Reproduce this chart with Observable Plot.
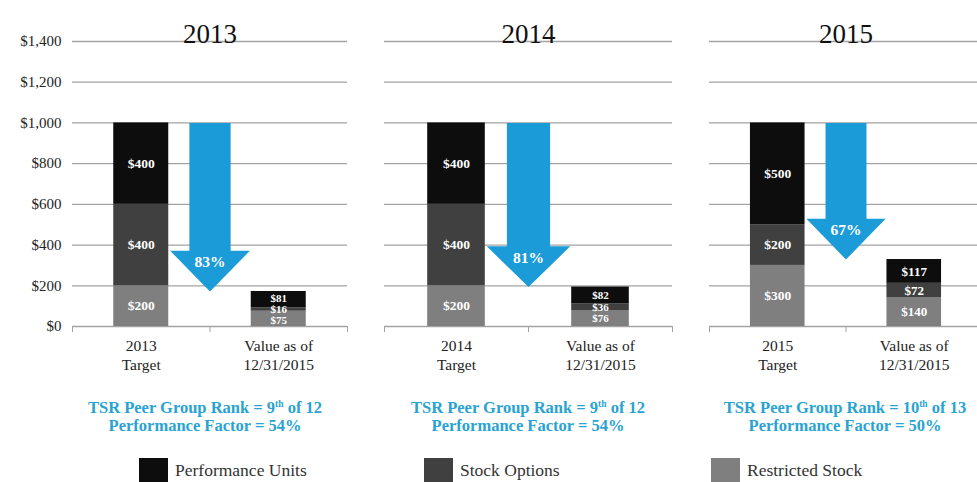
<!DOCTYPE html>
<html><head><meta charset="utf-8">
<script src="https://cdn.jsdelivr.net/npm/d3@7"></script>
<script src="https://cdn.jsdelivr.net/npm/@observablehq/plot@0.6"></script>
<style>
body{margin:0;background:#fff;overflow:hidden;}
#root{position:relative;width:977px;height:482px;overflow:hidden;font-family:"Liberation Serif",serif;background:#fff;}
.panel{position:absolute;top:0;}
.tsr{position:absolute;top:399px;width:360px;text-align:center;color:#2aa3d3;font-weight:bold;font-size:16.5px;line-height:18px;white-space:nowrap;}
.tsr sup{font-size:9.5px;line-height:0;vertical-align:6px;}
.sw{position:absolute;top:458px;width:29px;height:30px;}
.lt{position:absolute;top:460px;font-size:17.5px;line-height:21px;color:#333;white-space:nowrap;}
</style></head>
<body><div id="root"></div>
<script>
// ---- data ----
const years = ["2013", "2014", "2015"];
const components = ["Restricted Stock", "Stock Options", "Performance Units"];
const componentColors = ["#7f7f7f", "#404040", "#0d0d0d"];
const targetRestricted = [200, 200, 300];
const targetOptions    = [400, 400, 200];
const targetUnits      = [400, 400, 500];
const valueRestricted  = [75, 76, 140];
const valueOptions     = [16, 36, 72];
const valueUnits       = [81, 82, 117];
const declines = ["83%", "81%", "67%"];
const rankPlace = ["9", "9", "10"];
const rankOf = ["12", "12", "13"];
const perfFactor = ["54%", "54%", "50%"];
const valueLabel = "Value as of\n12/31/2015";
const yTicks = [0, 200, 400, 600, 800, 1000, 1200, 1400];
const legendOrder = ["Performance Units", "Stock Options", "Restricted Stock"];

// ---- layout (style) ----
const panels = [
  {left: 0,   width: 355, ml: 72, mr: 8, tc: 205, vfs: 11},
  {left: 360, width: 320, ml: 24, mr: 8, tc: 528, vfs: 11},
  {left: 690, width: 292, ml: 19, mr: 0, tc: 845, vfs: 13}
];
const blue = "#1b9bd7";
const gridColor = "#a3a3a3";
const minSep = 55; // minimum label spacing in value units for small segments
const root = document.getElementById("root");

years.forEach((yr, i) => {
  const stacks = [
    [targetRestricted[i], targetOptions[i], targetUnits[i]],
    [valueRestricted[i], valueOptions[i], valueUnits[i]]
  ];
  const rows = [];
  stacks.forEach((vals, pos) => {
    let acc = 0;
    const group = [];
    vals.forEach((v, k) => {
      const r = {pos, k, comp: components[k], value: v, y1: acc, y2: acc + v, ly: acc + v / 2};
      group.push(r);
      acc += v;
    });
    if (group[1].ly - group[0].ly < minSep) group[0].ly = group[1].ly - minSep;
    if (group[2].ly - group[1].ly < minSep) group[2].ly = group[1].ly + minSep;
    rows.push(...group);
  });
  const targetTotal = d3.sum(stacks[0]);
  const valueTotal = d3.sum(stacks[1]);
  const sh = 0.15, hh = 0.29, headH = 200;
  const arrow = [
    {x: 1 - sh, y: targetTotal}, {x: 1 + sh, y: targetTotal},
    {x: 1 + sh, y: valueTotal + headH}, {x: 1 + hh, y: valueTotal + headH},
    {x: 1, y: valueTotal},
    {x: 1 - hh, y: valueTotal + headH}, {x: 1 - sh, y: valueTotal + headH}
  ];
  const xLabels = [yr + "\nTarget", valueLabel];
  const p = panels[i];
  const marks = [
    Plot.ruleY(yTicks.filter(v => v > 0), {stroke: gridColor, strokeWidth: 1.3}),
    Plot.ruleY([0], {stroke: gridColor, strokeWidth: 1.3}),
    Plot.line(arrow, {x: "x", y: "y", fill: blue, stroke: "none"}),
    Plot.text([declines[i]], {x: () => 1, y: () => valueTotal + 143, fill: "white", fontWeight: "bold", fontSize: 15.5}),
    Plot.rect(rows, {x1: d => d.pos + 0.3, x2: d => d.pos + 0.7, y1: "y1", y2: "y2", fill: "comp"}),
    Plot.text(rows.filter(d => d.pos === 0), {x: d => d.pos + 0.5, y: "ly", text: d => "$" + d.value, fill: "white", fontWeight: "bold", fontSize: 13.5}),
    Plot.text(rows.filter(d => d.pos === 1), {x: d => d.pos + 0.5, y: "ly", text: d => "$" + d.value, fill: "white", fontWeight: "bold", fontSize: p.vfs}),
    Plot.axisX([0, 1, 2], {tickSize: 6, tickFormat: () => "", stroke: gridColor}),
    Plot.axisX([0.5, 1.5], {tickSize: 0, tickPadding: 12, tickFormat: d => xLabels[Math.floor(d)], fontSize: 15.5, lineHeight: 1.17, fill: "#222"}),
    Plot.text([yr], {x: () => 1, frameAnchor: "top", dy: -18, fontSize: 27, fill: "#111"})
  ];
  if (i === 0) {
    marks.push(Plot.axisY(yTicks, {tickSize: 0, tickPadding: 11, tickFormat: d => "$" + d3.format(",")(d), fontSize: 15, fill: "#222", letterSpacing: 1.2}));
  }
  const chart = Plot.plot({
    width: p.width, height: 380,
    marginLeft: p.ml, marginRight: p.mr, marginTop: 41, marginBottom: 54,
    style: {fontFamily: "Liberation Serif, serif", background: "transparent", overflow: "visible"},
    x: {type: "linear", domain: [0, 2], label: null},
    y: {domain: [0, 1400], label: null, axis: null},
    color: {domain: components, range: componentColors},
    marks
  });
  chart.classList.add("panel");
  chart.style.left = p.left + "px";
  root.appendChild(chart);

  const t = document.createElement("div");
  t.className = "tsr";
  t.style.left = (p.tc - 180) + "px";
  t.innerHTML = `TSR Peer Group Rank = ${rankPlace[i]}<sup>th</sup> of ${rankOf[i]}<br>Performance Factor = ${perfFactor[i]}`;
  root.appendChild(t);
});

const legendX = [139, 424, 711];
legendOrder.forEach((name, k) => {
  const sw = document.createElement("div");
  sw.className = "sw";
  sw.style.left = legendX[k] + "px";
  sw.style.background = componentColors[components.indexOf(name)];
  root.appendChild(sw);
  const lt = document.createElement("div");
  lt.className = "lt";
  lt.style.left = (legendX[k] + 36) + "px";
  lt.textContent = name;
  root.appendChild(lt);
});
</script></body></html>
